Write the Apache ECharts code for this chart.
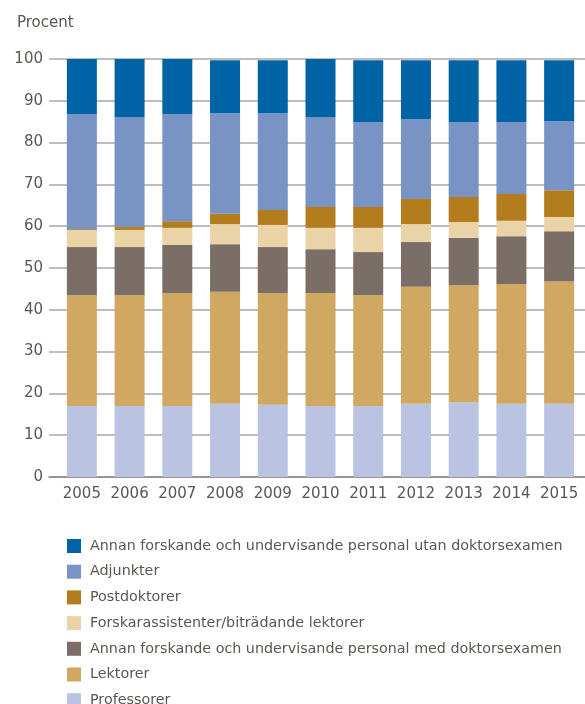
<!DOCTYPE html>
<html>
<head>
<meta charset="utf-8">
<script src="https://cdn.jsdelivr.net/npm/echarts@6/dist/echarts.min.js"></script>
<style>
  html, body { margin: 0; padding: 0; background: #fff; }
  #chart { width: 585px; height: 704px; }
</style>
</head>
<body>
<div id="chart"></div>
<script>
// Andel av forskande och undervisande personal per tjänstekategori, procent
const years = ['2005','2006','2007','2008','2009','2010','2011','2012','2013','2014','2015'];

const professorer  = [17.0, 17.0, 17.0, 17.5, 17.3, 17.0, 17.0, 17.5, 17.8, 17.5, 17.5];
const lektorer     = [26.5, 26.5, 27.0, 26.8, 26.7, 27.0, 26.5, 28.0, 28.1, 28.7, 29.3];
const annanMed     = [11.5, 11.5, 11.5, 11.4, 11.0, 10.5, 10.3, 10.7, 11.3, 11.4, 12.0];
const forskarass   = [ 4.1,  4.1,  4.1,  4.8,  5.3,  5.1,  5.8,  4.3,  3.8,  3.7,  3.4];
const postdoktorer = [ 0.2,  0.7,  1.6,  2.5,  3.6,  5.0,  5.0,  6.0,  6.0,  6.4,  6.4];
const adjunkter    = [27.5, 26.3, 25.6, 24.0, 23.1, 21.5, 20.3, 19.1, 17.9, 17.2, 16.5];
const annanUtan    = [13.2, 13.9, 13.2, 12.7, 12.7, 13.9, 14.8, 14.1, 14.8, 14.8, 14.6];

const yTicks = [0, 10, 20, 30, 40, 50, 60, 70, 80, 90, 100];

const names = {
  prof: 'Professorer',
  lekt: 'Lektorer',
  amed: 'Annan forskande och undervisande personal med doktorsexamen',
  fass: 'Forskarassistenter/biträdande lektorer',
  post: 'Postdoktorer',
  adj: 'Adjunkter',
  autan: 'Annan forskande och undervisande personal utan doktorsexamen'
};

const colors = {
  prof: '#bac4e2',
  lekt: '#d1a862',
  amed: '#7b6e66',
  fass: '#ebd3a8',
  post: '#b37d1e',
  adj: '#7893c4',
  autan: '#0063a6'
};

const stackOrder = [
  ['prof', professorer],
  ['lekt', lektorer],
  ['amed', annanMed],
  ['fass', forskarass],
  ['post', postdoktorer],
  ['adj', adjunkter],
  ['autan', annanUtan]
];

const textColor = '#5b5650';
const font = 'DejaVu Sans';

const series = stackOrder.map(([key, values]) => ({
  name: names[key],
  type: 'bar',
  stack: 'total',
  xAxisIndex: 1,
  yAxisIndex: 1,
  barWidth: 30,
  itemStyle: { color: colors[key] },
  emphasis: { disabled: true },
  data: values
}));

const chart = echarts.init(document.getElementById('chart'), null, { renderer: 'canvas' });

chart.setOption({
  animation: false,
  backgroundColor: '#ffffff',
  title: {
    text: 'Procent',
    left: 12,
    top: 11,
    textStyle: { fontFamily: font, fontSize: 15, fontWeight: 'normal', color: textColor }
  },
  legend: {
    orient: 'vertical',
    left: 62,
    top: 534,
    height: 180,
    itemWidth: 14,
    itemHeight: 14,
    itemGap: 11.7,
    icon: 'rect',
    selectedMode: false,
    textStyle: { fontFamily: font, fontSize: 14.3, color: textColor, padding: [0, 0, 0, 4] },
    data: [names.autan, names.adj, names.post, names.fass, names.amed, names.lekt, names.prof]
  },
  grid: [
    { left: 49, right: 0, top: 59, bottom: 227 },
    { left: 58, right: 2, top: 59, bottom: 227 }
  ],
  xAxis: [
    {
      gridIndex: 0,
      type: 'category',
      data: years,
      axisLine: { show: true, lineStyle: { color: '#8c8782', width: 1.5 } },
      axisTick: { show: false },
      axisLabel: { show: false },
      splitLine: { show: false }
    },
    {
      gridIndex: 1,
      type: 'category',
      data: years,
      axisLine: { show: false },
      axisTick: { show: false },
      axisLabel: { interval: 0, fontFamily: font, fontSize: 15, color: textColor, margin: 10 }
    }
  ],
  yAxis: [
    {
      gridIndex: 0,
      type: 'value',
      min: yTicks[0],
      max: yTicks[yTicks.length - 1],
      interval: 10,
      axisLine: { show: false },
      axisTick: { show: false },
      axisLabel: { fontFamily: font, fontSize: 15, color: textColor, margin: 6 },
      splitLine: { show: true, lineStyle: { color: '#a9a7a5', width: 1.5 } }
    },
    {
      gridIndex: 1,
      type: 'value',
      min: yTicks[0],
      max: yTicks[yTicks.length - 1],
      interval: 10,
      show: false,
      splitLine: { show: false }
    }
  ],
  series: series
});
</script>
</body>
</html>
